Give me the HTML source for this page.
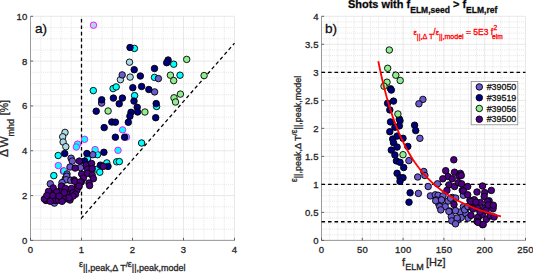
<!DOCTYPE html><html><head><meta charset="utf-8"><style>html,body{margin:0;padding:0;background:#fff;}svg{display:block}</style></head><body><svg width="533" height="273" viewBox="0 0 533 273" fill="#262626" color="#262626">
<style>.mn{stroke:#dedede;stroke-width:0.8;stroke-dasharray:1 1.1}.mj{stroke:#e2e2e2;stroke-width:0.8}text{font-family:"Liberation Sans",sans-serif;stroke:currentColor;stroke-width:0.3}.c{stroke:#000;stroke-width:0.9}</style>
<rect width="533" height="273" fill="#fff"/>
<line x1="40.70" y1="16.30" x2="40.70" y2="240.40" class="mn"/>
<line x1="50.90" y1="16.30" x2="50.90" y2="240.40" class="mn"/>
<line x1="61.10" y1="16.30" x2="61.10" y2="240.40" class="mn"/>
<line x1="71.30" y1="16.30" x2="71.30" y2="240.40" class="mn"/>
<line x1="91.70" y1="16.30" x2="91.70" y2="240.40" class="mn"/>
<line x1="101.90" y1="16.30" x2="101.90" y2="240.40" class="mn"/>
<line x1="112.10" y1="16.30" x2="112.10" y2="240.40" class="mn"/>
<line x1="122.30" y1="16.30" x2="122.30" y2="240.40" class="mn"/>
<line x1="142.70" y1="16.30" x2="142.70" y2="240.40" class="mn"/>
<line x1="152.90" y1="16.30" x2="152.90" y2="240.40" class="mn"/>
<line x1="163.10" y1="16.30" x2="163.10" y2="240.40" class="mn"/>
<line x1="173.30" y1="16.30" x2="173.30" y2="240.40" class="mn"/>
<line x1="193.70" y1="16.30" x2="193.70" y2="240.40" class="mn"/>
<line x1="203.90" y1="16.30" x2="203.90" y2="240.40" class="mn"/>
<line x1="214.10" y1="16.30" x2="214.10" y2="240.40" class="mn"/>
<line x1="224.30" y1="16.30" x2="224.30" y2="240.40" class="mn"/>
<line x1="30.50" y1="229.19" x2="234.50" y2="229.19" class="mn"/>
<line x1="30.50" y1="217.99" x2="234.50" y2="217.99" class="mn"/>
<line x1="30.50" y1="206.79" x2="234.50" y2="206.79" class="mn"/>
<line x1="30.50" y1="184.38" x2="234.50" y2="184.38" class="mn"/>
<line x1="30.50" y1="173.17" x2="234.50" y2="173.17" class="mn"/>
<line x1="30.50" y1="161.97" x2="234.50" y2="161.97" class="mn"/>
<line x1="30.50" y1="139.56" x2="234.50" y2="139.56" class="mn"/>
<line x1="30.50" y1="128.35" x2="234.50" y2="128.35" class="mn"/>
<line x1="30.50" y1="117.14" x2="234.50" y2="117.14" class="mn"/>
<line x1="30.50" y1="94.74" x2="234.50" y2="94.74" class="mn"/>
<line x1="30.50" y1="83.53" x2="234.50" y2="83.53" class="mn"/>
<line x1="30.50" y1="72.33" x2="234.50" y2="72.33" class="mn"/>
<line x1="30.50" y1="49.92" x2="234.50" y2="49.92" class="mn"/>
<line x1="30.50" y1="38.71" x2="234.50" y2="38.71" class="mn"/>
<line x1="30.50" y1="27.51" x2="234.50" y2="27.51" class="mn"/>
<line x1="30.50" y1="16.30" x2="30.50" y2="240.40" class="mj"/>
<line x1="81.50" y1="16.30" x2="81.50" y2="240.40" class="mj"/>
<line x1="132.50" y1="16.30" x2="132.50" y2="240.40" class="mj"/>
<line x1="183.50" y1="16.30" x2="183.50" y2="240.40" class="mj"/>
<line x1="234.50" y1="16.30" x2="234.50" y2="240.40" class="mj"/>
<line x1="30.50" y1="240.40" x2="234.50" y2="240.40" class="mj"/>
<line x1="30.50" y1="195.58" x2="234.50" y2="195.58" class="mj"/>
<line x1="30.50" y1="150.76" x2="234.50" y2="150.76" class="mj"/>
<line x1="30.50" y1="105.94" x2="234.50" y2="105.94" class="mj"/>
<line x1="30.50" y1="61.12" x2="234.50" y2="61.12" class="mj"/>
<line x1="30.50" y1="16.30" x2="234.50" y2="16.30" class="mj"/>
<line x1="329.66" y1="16.30" x2="329.66" y2="240.40" class="mn"/>
<line x1="337.82" y1="16.30" x2="337.82" y2="240.40" class="mn"/>
<line x1="345.98" y1="16.30" x2="345.98" y2="240.40" class="mn"/>
<line x1="354.14" y1="16.30" x2="354.14" y2="240.40" class="mn"/>
<line x1="370.46" y1="16.30" x2="370.46" y2="240.40" class="mn"/>
<line x1="378.62" y1="16.30" x2="378.62" y2="240.40" class="mn"/>
<line x1="386.78" y1="16.30" x2="386.78" y2="240.40" class="mn"/>
<line x1="394.94" y1="16.30" x2="394.94" y2="240.40" class="mn"/>
<line x1="411.26" y1="16.30" x2="411.26" y2="240.40" class="mn"/>
<line x1="419.42" y1="16.30" x2="419.42" y2="240.40" class="mn"/>
<line x1="427.58" y1="16.30" x2="427.58" y2="240.40" class="mn"/>
<line x1="435.74" y1="16.30" x2="435.74" y2="240.40" class="mn"/>
<line x1="452.06" y1="16.30" x2="452.06" y2="240.40" class="mn"/>
<line x1="460.22" y1="16.30" x2="460.22" y2="240.40" class="mn"/>
<line x1="468.38" y1="16.30" x2="468.38" y2="240.40" class="mn"/>
<line x1="476.54" y1="16.30" x2="476.54" y2="240.40" class="mn"/>
<line x1="492.86" y1="16.30" x2="492.86" y2="240.40" class="mn"/>
<line x1="501.02" y1="16.30" x2="501.02" y2="240.40" class="mn"/>
<line x1="509.18" y1="16.30" x2="509.18" y2="240.40" class="mn"/>
<line x1="517.34" y1="16.30" x2="517.34" y2="240.40" class="mn"/>
<line x1="321.50" y1="234.80" x2="525.50" y2="234.80" class="mn"/>
<line x1="321.50" y1="229.19" x2="525.50" y2="229.19" class="mn"/>
<line x1="321.50" y1="223.59" x2="525.50" y2="223.59" class="mn"/>
<line x1="321.50" y1="217.99" x2="525.50" y2="217.99" class="mn"/>
<line x1="321.50" y1="206.78" x2="525.50" y2="206.78" class="mn"/>
<line x1="321.50" y1="201.18" x2="525.50" y2="201.18" class="mn"/>
<line x1="321.50" y1="195.58" x2="525.50" y2="195.58" class="mn"/>
<line x1="321.50" y1="189.98" x2="525.50" y2="189.98" class="mn"/>
<line x1="321.50" y1="178.77" x2="525.50" y2="178.77" class="mn"/>
<line x1="321.50" y1="173.17" x2="525.50" y2="173.17" class="mn"/>
<line x1="321.50" y1="167.57" x2="525.50" y2="167.57" class="mn"/>
<line x1="321.50" y1="161.97" x2="525.50" y2="161.97" class="mn"/>
<line x1="321.50" y1="150.76" x2="525.50" y2="150.76" class="mn"/>
<line x1="321.50" y1="145.16" x2="525.50" y2="145.16" class="mn"/>
<line x1="321.50" y1="139.56" x2="525.50" y2="139.56" class="mn"/>
<line x1="321.50" y1="133.95" x2="525.50" y2="133.95" class="mn"/>
<line x1="321.50" y1="122.75" x2="525.50" y2="122.75" class="mn"/>
<line x1="321.50" y1="117.14" x2="525.50" y2="117.14" class="mn"/>
<line x1="321.50" y1="111.54" x2="525.50" y2="111.54" class="mn"/>
<line x1="321.50" y1="105.94" x2="525.50" y2="105.94" class="mn"/>
<line x1="321.50" y1="94.74" x2="525.50" y2="94.74" class="mn"/>
<line x1="321.50" y1="89.13" x2="525.50" y2="89.13" class="mn"/>
<line x1="321.50" y1="83.53" x2="525.50" y2="83.53" class="mn"/>
<line x1="321.50" y1="77.93" x2="525.50" y2="77.93" class="mn"/>
<line x1="321.50" y1="66.72" x2="525.50" y2="66.72" class="mn"/>
<line x1="321.50" y1="61.12" x2="525.50" y2="61.12" class="mn"/>
<line x1="321.50" y1="55.52" x2="525.50" y2="55.52" class="mn"/>
<line x1="321.50" y1="49.91" x2="525.50" y2="49.91" class="mn"/>
<line x1="321.50" y1="38.71" x2="525.50" y2="38.71" class="mn"/>
<line x1="321.50" y1="33.11" x2="525.50" y2="33.11" class="mn"/>
<line x1="321.50" y1="27.50" x2="525.50" y2="27.50" class="mn"/>
<line x1="321.50" y1="21.90" x2="525.50" y2="21.90" class="mn"/>
<line x1="321.50" y1="16.30" x2="321.50" y2="240.40" class="mj"/>
<line x1="362.30" y1="16.30" x2="362.30" y2="240.40" class="mj"/>
<line x1="403.10" y1="16.30" x2="403.10" y2="240.40" class="mj"/>
<line x1="443.90" y1="16.30" x2="443.90" y2="240.40" class="mj"/>
<line x1="484.70" y1="16.30" x2="484.70" y2="240.40" class="mj"/>
<line x1="525.50" y1="16.30" x2="525.50" y2="240.40" class="mj"/>
<line x1="321.50" y1="240.40" x2="525.50" y2="240.40" class="mj"/>
<line x1="321.50" y1="212.39" x2="525.50" y2="212.39" class="mj"/>
<line x1="321.50" y1="184.38" x2="525.50" y2="184.38" class="mj"/>
<line x1="321.50" y1="156.36" x2="525.50" y2="156.36" class="mj"/>
<line x1="321.50" y1="128.35" x2="525.50" y2="128.35" class="mj"/>
<line x1="321.50" y1="100.34" x2="525.50" y2="100.34" class="mj"/>
<line x1="321.50" y1="72.33" x2="525.50" y2="72.33" class="mj"/>
<line x1="321.50" y1="44.31" x2="525.50" y2="44.31" class="mj"/>
<line x1="321.50" y1="16.30" x2="525.50" y2="16.30" class="mj"/>
<path d="M30.5,16.3 V240.4 H234.5" fill="none" stroke="#9a9a9a" stroke-width="1"/>
<path d="M321.5,16.3 V240.4 H525.5" fill="none" stroke="#9a9a9a" stroke-width="1"/>
<path d="M30.50,240.4 v-2.6 M81.50,240.4 v-2.6 M132.50,240.4 v-2.6 M183.50,240.4 v-2.6 M234.50,240.4 v-2.6 M30.5,240.40 h2.6 M30.5,195.58 h2.6 M30.5,150.76 h2.6 M30.5,105.94 h2.6 M30.5,61.12 h2.6 M30.5,16.30 h2.6 M321.50,240.4 v-2.6 M362.30,240.4 v-2.6 M403.10,240.4 v-2.6 M443.90,240.4 v-2.6 M484.70,240.4 v-2.6 M525.50,240.4 v-2.6 M321.5,240.40 h2.6 M321.5,212.39 h2.6 M321.5,184.38 h2.6 M321.5,156.36 h2.6 M321.5,128.35 h2.6 M321.5,100.34 h2.6 M321.5,72.33 h2.6 M321.5,44.31 h2.6 M321.5,16.30 h2.6" stroke="#555" stroke-width="0.9" fill="none"/>
<text x="30.60" y="253" font-size="9.5" letter-spacing="0.2" text-anchor="middle">0</text>
<text x="81.60" y="253" font-size="9.5" letter-spacing="0.2" text-anchor="middle">1</text>
<text x="132.60" y="253" font-size="9.5" letter-spacing="0.2" text-anchor="middle">2</text>
<text x="183.60" y="253" font-size="9.5" letter-spacing="0.2" text-anchor="middle">3</text>
<text x="234.60" y="253" font-size="9.5" letter-spacing="0.2" text-anchor="middle">4</text>
<text x="27.5" y="243.90" font-size="9.5" letter-spacing="0.2" text-anchor="end">0</text>
<text x="27.5" y="199.08" font-size="9.5" letter-spacing="0.2" text-anchor="end">2</text>
<text x="27.5" y="154.26" font-size="9.5" letter-spacing="0.2" text-anchor="end">4</text>
<text x="27.5" y="109.44" font-size="9.5" letter-spacing="0.2" text-anchor="end">6</text>
<text x="27.5" y="64.62" font-size="9.5" letter-spacing="0.2" text-anchor="end">8</text>
<text x="27.5" y="19.80" font-size="9.5" letter-spacing="0.2" text-anchor="end">10</text>
<text x="321.60" y="253" font-size="9.5" letter-spacing="0.2" text-anchor="middle">0</text>
<text x="362.40" y="253" font-size="9.5" letter-spacing="0.2" text-anchor="middle">50</text>
<text x="403.20" y="253" font-size="9.5" letter-spacing="0.2" text-anchor="middle">100</text>
<text x="444.00" y="253" font-size="9.5" letter-spacing="0.2" text-anchor="middle">150</text>
<text x="484.80" y="253" font-size="9.5" letter-spacing="0.2" text-anchor="middle">200</text>
<text x="525.60" y="253" font-size="9.5" letter-spacing="0.2" text-anchor="middle">250</text>
<text x="318.7" y="243.90" font-size="9.5" letter-spacing="0.2" text-anchor="end">0</text>
<text x="318.7" y="215.89" font-size="9.5" letter-spacing="0.2" text-anchor="end">0.5</text>
<text x="318.7" y="187.88" font-size="9.5" letter-spacing="0.2" text-anchor="end">1</text>
<text x="318.7" y="159.86" font-size="9.5" letter-spacing="0.2" text-anchor="end">1.5</text>
<text x="318.7" y="131.85" font-size="9.5" letter-spacing="0.2" text-anchor="end">2</text>
<text x="318.7" y="103.84" font-size="9.5" letter-spacing="0.2" text-anchor="end">2.5</text>
<text x="318.7" y="75.83" font-size="9.5" letter-spacing="0.2" text-anchor="end">3</text>
<text x="318.7" y="47.81" font-size="9.5" letter-spacing="0.2" text-anchor="end">3.5</text>
<text x="318.7" y="19.80" font-size="9.5" letter-spacing="0.2" text-anchor="end">4</text>
<path d="M81.50,16.30 L81.50,217.99 L234.50,43.19" fill="none" stroke="#000" stroke-width="1.3" stroke-dasharray="3.6 2.8" stroke-dashoffset="3.7"/>
<line x1="321.5" y1="72.33" x2="525.5" y2="72.33" stroke="#000" stroke-width="1.4" stroke-dasharray="3.6 2.9"/>
<line x1="321.5" y1="184.38" x2="525.5" y2="184.38" stroke="#000" stroke-width="1.4" stroke-dasharray="3.6 2.9"/>
<line x1="321.5" y1="221.73" x2="525.5" y2="221.73" stroke="#000" stroke-width="1.4" stroke-dasharray="3.6 2.9"/>
<g class="left">
<circle cx="129.5" cy="62.2" r="3.25" fill="#add8e6" stroke="#000" stroke-width="0.9"/>
<circle cx="120.4" cy="79.7" r="3.25" fill="#add8e6" stroke="#000" stroke-width="0.9"/>
<circle cx="130.1" cy="77.1" r="3.25" fill="#add8e6" stroke="#000" stroke-width="0.9"/>
<circle cx="65" cy="132.4" r="3.25" fill="#add8e6" stroke="#000" stroke-width="0.9"/>
<circle cx="62.7" cy="136.8" r="3.25" fill="#add8e6" stroke="#000" stroke-width="0.9"/>
<circle cx="63.1" cy="142" r="3.25" fill="#add8e6" stroke="#000" stroke-width="0.9"/>
<circle cx="65.8" cy="146.7" r="3.25" fill="#add8e6" stroke="#000" stroke-width="0.9"/>
<circle cx="93.5" cy="25.2" r="3.25" fill="#add8e6" stroke="#ff00ff" stroke-width="0.9"/>
<circle cx="134.4" cy="48.4" r="3.25" fill="#00ffff" stroke="#000" stroke-width="0.9"/>
<circle cx="173.7" cy="64.2" r="3.25" fill="#00ffff" stroke="#000" stroke-width="0.9"/>
<circle cx="154.5" cy="77.4" r="3.25" fill="#00ffff" stroke="#000" stroke-width="0.9"/>
<circle cx="180" cy="75.2" r="3.25" fill="#00ffff" stroke="#000" stroke-width="0.9"/>
<circle cx="93.3" cy="90.6" r="3.25" fill="#00ffff" stroke="#000" stroke-width="0.9"/>
<circle cx="113.1" cy="88.6" r="3.25" fill="#00ffff" stroke="#000" stroke-width="0.9"/>
<circle cx="116.2" cy="86.9" r="3.25" fill="#00ffff" stroke="#000" stroke-width="0.9"/>
<circle cx="134.6" cy="95.6" r="3.25" fill="#00ffff" stroke="#000" stroke-width="0.9"/>
<circle cx="156.6" cy="106.5" r="3.25" fill="#00ffff" stroke="#000" stroke-width="0.9"/>
<circle cx="141.6" cy="143" r="3.25" fill="#00ffff" stroke="#000" stroke-width="0.9"/>
<circle cx="58.2" cy="155.5" r="3.25" fill="#00ffff" stroke="#000" stroke-width="0.9"/>
<circle cx="97.5" cy="154.7" r="3.25" fill="#00ffff" stroke="#000" stroke-width="0.9"/>
<circle cx="116.7" cy="161.8" r="3.25" fill="#00ffff" stroke="#000" stroke-width="0.9"/>
<circle cx="119.3" cy="161.6" r="3.25" fill="#00ffff" stroke="#000" stroke-width="0.9"/>
<circle cx="106.8" cy="162.9" r="3.25" fill="#00ffff" stroke="#000" stroke-width="0.9"/>
<circle cx="96.9" cy="169.3" r="3.25" fill="#00ffff" stroke="#000" stroke-width="0.9"/>
<circle cx="99.8" cy="172.2" r="3.25" fill="#00ffff" stroke="#000" stroke-width="0.9"/>
<circle cx="53.8" cy="175.6" r="3.25" fill="#00ffff" stroke="#000" stroke-width="0.9"/>
<circle cx="87.5" cy="158.8" r="3.25" fill="#00ffff" stroke="#000" stroke-width="0.9"/>
<circle cx="63.5" cy="171.1" r="3.25" fill="#00ffff" stroke="#000" stroke-width="0.9"/>
<circle cx="84.6" cy="139.3" r="3.25" fill="#00ffff" stroke="#ff00ff" stroke-width="0.9"/>
<circle cx="77.5" cy="144.1" r="3.25" fill="#00ffff" stroke="#ff00ff" stroke-width="0.9"/>
<circle cx="76.3" cy="147" r="3.25" fill="#00ffff" stroke="#ff00ff" stroke-width="0.9"/>
<circle cx="95.1" cy="149.6" r="3.25" fill="#00ffff" stroke="#ff00ff" stroke-width="0.9"/>
<circle cx="122.6" cy="129.9" r="3.25" fill="#00ffff" stroke="#ff00ff" stroke-width="0.9"/>
<circle cx="126.5" cy="137.1" r="3.25" fill="#00ffff" stroke="#ff00ff" stroke-width="0.9"/>
<circle cx="118" cy="150.3" r="3.25" fill="#00ffff" stroke="#ff00ff" stroke-width="0.9"/>
<circle cx="58.3" cy="165.6" r="3.25" fill="#00ffff" stroke="#ff00ff" stroke-width="0.9"/>
<circle cx="64.1" cy="170.9" r="3.25" fill="#00ffff" stroke="#ff00ff" stroke-width="0.9"/>
<circle cx="122.2" cy="74.9" r="3.25" fill="#6a5acd" stroke="#000" stroke-width="0.9"/>
<circle cx="158.4" cy="78.6" r="3.25" fill="#6a5acd" stroke="#000" stroke-width="0.9"/>
<circle cx="154.6" cy="91.9" r="3.25" fill="#6a5acd" stroke="#000" stroke-width="0.9"/>
<circle cx="101.6" cy="103.1" r="3.25" fill="#6a5acd" stroke="#000" stroke-width="0.9"/>
<circle cx="92.8" cy="154.7" r="3.25" fill="#6a5acd" stroke="#000" stroke-width="0.9"/>
<circle cx="71.1" cy="158.2" r="3.25" fill="#6a5acd" stroke="#000" stroke-width="0.9"/>
<circle cx="72.3" cy="161.1" r="3.25" fill="#6a5acd" stroke="#000" stroke-width="0.9"/>
<circle cx="70" cy="167" r="3.25" fill="#6a5acd" stroke="#000" stroke-width="0.9"/>
<circle cx="80.5" cy="167.6" r="3.25" fill="#6a5acd" stroke="#000" stroke-width="0.9"/>
<circle cx="67" cy="174" r="3.25" fill="#6a5acd" stroke="#000" stroke-width="0.9"/>
<circle cx="65.3" cy="178.7" r="3.25" fill="#6a5acd" stroke="#000" stroke-width="0.9"/>
<circle cx="68.8" cy="179.9" r="3.25" fill="#6a5acd" stroke="#000" stroke-width="0.9"/>
<circle cx="66.7" cy="176.2" r="3.25" fill="#6a5acd" stroke="#000" stroke-width="0.9"/>
<circle cx="66.1" cy="179.7" r="3.25" fill="#6a5acd" stroke="#000" stroke-width="0.9"/>
<circle cx="70.8" cy="180.3" r="3.25" fill="#6a5acd" stroke="#000" stroke-width="0.9"/>
<circle cx="50.3" cy="183.8" r="3.25" fill="#6a5acd" stroke="#000" stroke-width="0.9"/>
<circle cx="62" cy="182.6" r="3.25" fill="#6a5acd" stroke="#000" stroke-width="0.9"/>
<circle cx="54.4" cy="203.1" r="3.25" fill="#6a5acd" stroke="#000" stroke-width="0.9"/>
<circle cx="130" cy="47.5" r="3.25" fill="#000080" stroke="#000" stroke-width="0.9"/>
<circle cx="134.2" cy="69.7" r="3.25" fill="#000080" stroke="#000" stroke-width="0.9"/>
<circle cx="154.5" cy="68.5" r="3.25" fill="#000080" stroke="#000" stroke-width="0.9"/>
<circle cx="168.1" cy="60" r="3.25" fill="#000080" stroke="#000" stroke-width="0.9"/>
<circle cx="166.7" cy="62.7" r="3.25" fill="#000080" stroke="#000" stroke-width="0.9"/>
<circle cx="140.3" cy="76" r="3.25" fill="#000080" stroke="#000" stroke-width="0.9"/>
<circle cx="132.8" cy="87.7" r="3.25" fill="#000080" stroke="#000" stroke-width="0.9"/>
<circle cx="141.6" cy="86.5" r="3.25" fill="#000080" stroke="#000" stroke-width="0.9"/>
<circle cx="148.8" cy="89.5" r="3.25" fill="#000080" stroke="#000" stroke-width="0.9"/>
<circle cx="101.7" cy="99.8" r="3.25" fill="#000080" stroke="#000" stroke-width="0.9"/>
<circle cx="113.4" cy="98.1" r="3.25" fill="#000080" stroke="#000" stroke-width="0.9"/>
<circle cx="122.4" cy="98.1" r="3.25" fill="#000080" stroke="#000" stroke-width="0.9"/>
<circle cx="119.2" cy="103.8" r="3.25" fill="#000080" stroke="#000" stroke-width="0.9"/>
<circle cx="134" cy="101.1" r="3.25" fill="#000080" stroke="#000" stroke-width="0.9"/>
<circle cx="156.2" cy="103.6" r="3.25" fill="#000080" stroke="#000" stroke-width="0.9"/>
<circle cx="96.2" cy="111.2" r="3.25" fill="#000080" stroke="#000" stroke-width="0.9"/>
<circle cx="137.2" cy="107.3" r="3.25" fill="#000080" stroke="#000" stroke-width="0.9"/>
<circle cx="137.6" cy="112" r="3.25" fill="#000080" stroke="#000" stroke-width="0.9"/>
<circle cx="131" cy="112.3" r="3.25" fill="#000080" stroke="#000" stroke-width="0.9"/>
<circle cx="129.9" cy="116.2" r="3.25" fill="#000080" stroke="#000" stroke-width="0.9"/>
<circle cx="155.7" cy="117.7" r="3.25" fill="#000080" stroke="#000" stroke-width="0.9"/>
<circle cx="111.8" cy="122" r="3.25" fill="#000080" stroke="#000" stroke-width="0.9"/>
<circle cx="115.4" cy="122.2" r="3.25" fill="#000080" stroke="#000" stroke-width="0.9"/>
<circle cx="128.3" cy="122.3" r="3.25" fill="#000080" stroke="#000" stroke-width="0.9"/>
<circle cx="104.2" cy="127.6" r="3.25" fill="#000080" stroke="#000" stroke-width="0.9"/>
<circle cx="115.4" cy="137.2" r="3.25" fill="#000080" stroke="#000" stroke-width="0.9"/>
<circle cx="124.6" cy="137.2" r="3.25" fill="#000080" stroke="#000" stroke-width="0.9"/>
<circle cx="103.9" cy="152.3" r="3.25" fill="#000080" stroke="#000" stroke-width="0.9"/>
<circle cx="64.7" cy="153.5" r="3.25" fill="#000080" stroke="#000" stroke-width="0.9"/>
<circle cx="86.9" cy="153.5" r="3.25" fill="#000080" stroke="#000" stroke-width="0.9"/>
<circle cx="84.6" cy="161.1" r="3.25" fill="#000080" stroke="#000" stroke-width="0.9"/>
<circle cx="100.4" cy="165.2" r="3.25" fill="#000080" stroke="#000" stroke-width="0.9"/>
<circle cx="108" cy="166.4" r="3.25" fill="#000080" stroke="#000" stroke-width="0.9"/>
<circle cx="186.7" cy="59.4" r="3.25" fill="#90ee90" stroke="#000" stroke-width="0.9"/>
<circle cx="170.4" cy="75.2" r="3.25" fill="#90ee90" stroke="#000" stroke-width="0.9"/>
<circle cx="173.7" cy="80.6" r="3.25" fill="#90ee90" stroke="#000" stroke-width="0.9"/>
<circle cx="204.1" cy="75.6" r="3.25" fill="#90ee90" stroke="#000" stroke-width="0.9"/>
<circle cx="174" cy="97.8" r="3.25" fill="#90ee90" stroke="#000" stroke-width="0.9"/>
<circle cx="180.4" cy="94.1" r="3.25" fill="#90ee90" stroke="#000" stroke-width="0.9"/>
<circle cx="175.5" cy="102" r="3.25" fill="#90ee90" stroke="#000" stroke-width="0.9"/>
<circle cx="108.1" cy="111" r="3.25" fill="#90ee90" stroke="#000" stroke-width="0.9"/>
<circle cx="144.9" cy="112" r="3.25" fill="#90ee90" stroke="#000" stroke-width="0.9"/>
<circle cx="79.3" cy="161.1" r="3.25" fill="#4b0082" stroke="#000" stroke-width="0.9"/>
<circle cx="86.3" cy="165.2" r="3.25" fill="#4b0082" stroke="#000" stroke-width="0.9"/>
<circle cx="91.6" cy="163.5" r="3.25" fill="#4b0082" stroke="#000" stroke-width="0.9"/>
<circle cx="75.2" cy="168.1" r="3.25" fill="#4b0082" stroke="#000" stroke-width="0.9"/>
<circle cx="87.5" cy="169.3" r="3.25" fill="#4b0082" stroke="#000" stroke-width="0.9"/>
<circle cx="92.2" cy="168.7" r="3.25" fill="#4b0082" stroke="#000" stroke-width="0.9"/>
<circle cx="103.3" cy="166.4" r="3.25" fill="#4b0082" stroke="#000" stroke-width="0.9"/>
<circle cx="81.7" cy="174" r="3.25" fill="#4b0082" stroke="#000" stroke-width="0.9"/>
<circle cx="87.5" cy="173.4" r="3.25" fill="#4b0082" stroke="#000" stroke-width="0.9"/>
<circle cx="92.2" cy="175.2" r="3.25" fill="#4b0082" stroke="#000" stroke-width="0.9"/>
<circle cx="93.4" cy="178.7" r="3.25" fill="#4b0082" stroke="#000" stroke-width="0.9"/>
<circle cx="83.4" cy="178.1" r="3.25" fill="#4b0082" stroke="#000" stroke-width="0.9"/>
<circle cx="74.1" cy="179.9" r="3.25" fill="#4b0082" stroke="#000" stroke-width="0.9"/>
<circle cx="89" cy="183" r="3.25" fill="#4b0082" stroke="#000" stroke-width="0.9"/>
<circle cx="81.3" cy="182" r="3.25" fill="#4b0082" stroke="#000" stroke-width="0.9"/>
<circle cx="76.9" cy="187.4" r="3.25" fill="#4b0082" stroke="#000" stroke-width="0.9"/>
<circle cx="89.6" cy="185.6" r="3.25" fill="#4b0082" stroke="#000" stroke-width="0.9"/>
<circle cx="78.9" cy="186.7" r="3.25" fill="#4b0082" stroke="#000" stroke-width="0.9"/>
<circle cx="55" cy="198" r="3.25" fill="#4b0082" stroke="#000" stroke-width="0.9"/>
<circle cx="67" cy="194" r="3.25" fill="#4b0082" stroke="#000" stroke-width="0.9"/>
<circle cx="60" cy="191" r="3.25" fill="#4b0082" stroke="#000" stroke-width="0.9"/>
<circle cx="77" cy="190" r="3.25" fill="#4b0082" stroke="#000" stroke-width="0.9"/>
<circle cx="46" cy="200.5" r="3.25" fill="#4b0082" stroke="#000" stroke-width="0.9"/>
<circle cx="55" cy="200.5" r="3.25" fill="#4b0082" stroke="#000" stroke-width="0.9"/>
<circle cx="65" cy="199" r="3.25" fill="#4b0082" stroke="#000" stroke-width="0.9"/>
<circle cx="70" cy="200" r="3.25" fill="#4b0082" stroke="#000" stroke-width="0.9"/>
<circle cx="48" cy="196" r="3.25" fill="#4b0082" stroke="#000" stroke-width="0.9"/>
<circle cx="52" cy="191" r="3.25" fill="#4b0082" stroke="#000" stroke-width="0.9"/>
<circle cx="74.9" cy="181.4" r="3.25" fill="#4b0082" stroke="#000" stroke-width="0.9"/>
<circle cx="80.2" cy="182" r="3.25" fill="#4b0082" stroke="#000" stroke-width="0.9"/>
<circle cx="79" cy="186.1" r="3.25" fill="#4b0082" stroke="#000" stroke-width="0.9"/>
<circle cx="53.2" cy="187.9" r="3.25" fill="#4b0082" stroke="#000" stroke-width="0.9"/>
<circle cx="61.4" cy="186.1" r="3.25" fill="#4b0082" stroke="#000" stroke-width="0.9"/>
<circle cx="65.5" cy="188.5" r="3.25" fill="#4b0082" stroke="#000" stroke-width="0.9"/>
<circle cx="71.4" cy="188.5" r="3.25" fill="#4b0082" stroke="#000" stroke-width="0.9"/>
<circle cx="48.5" cy="191.4" r="3.25" fill="#4b0082" stroke="#000" stroke-width="0.9"/>
<circle cx="56.7" cy="192" r="3.25" fill="#4b0082" stroke="#000" stroke-width="0.9"/>
<circle cx="64.3" cy="192.6" r="3.25" fill="#4b0082" stroke="#000" stroke-width="0.9"/>
<circle cx="73.1" cy="192.6" r="3.25" fill="#4b0082" stroke="#000" stroke-width="0.9"/>
<circle cx="75.5" cy="194.3" r="3.25" fill="#4b0082" stroke="#000" stroke-width="0.9"/>
<circle cx="44.4" cy="199" r="3.25" fill="#4b0082" stroke="#000" stroke-width="0.9"/>
<circle cx="52.6" cy="195.5" r="3.25" fill="#4b0082" stroke="#000" stroke-width="0.9"/>
<circle cx="50.3" cy="201.3" r="3.25" fill="#4b0082" stroke="#000" stroke-width="0.9"/>
<circle cx="58.5" cy="200.2" r="3.25" fill="#4b0082" stroke="#000" stroke-width="0.9"/>
<circle cx="62" cy="201.3" r="3.25" fill="#4b0082" stroke="#000" stroke-width="0.9"/>
<circle cx="73.1" cy="196.1" r="3.25" fill="#4b0082" stroke="#000" stroke-width="0.9"/>
<circle cx="69" cy="197.8" r="3.25" fill="#4b0082" stroke="#000" stroke-width="0.9"/>
<circle cx="46.8" cy="195.5" r="3.25" fill="#4b0082" stroke="#000" stroke-width="0.9"/>
<circle cx="59.1" cy="196.1" r="3.25" fill="#4b0082" stroke="#000" stroke-width="0.9"/>
</g>
<g class="right">
<circle cx="422.9" cy="99.4" r="3.25" fill="#6a5acd" stroke="#000" stroke-width="0.9"/>
<circle cx="418.9" cy="103.8" r="3.25" fill="#6a5acd" stroke="#000" stroke-width="0.9"/>
<circle cx="419.9" cy="138.3" r="3.25" fill="#6a5acd" stroke="#000" stroke-width="0.9"/>
<circle cx="408.9" cy="160.6" r="3.25" fill="#6a5acd" stroke="#000" stroke-width="0.9"/>
<circle cx="417.7" cy="177" r="3.25" fill="#6a5acd" stroke="#000" stroke-width="0.9"/>
<circle cx="418.4" cy="193.4" r="3.25" fill="#6a5acd" stroke="#000" stroke-width="0.9"/>
<circle cx="423.8" cy="171.5" r="3.25" fill="#6a5acd" stroke="#000" stroke-width="0.9"/>
<circle cx="424.9" cy="175.5" r="3.25" fill="#6a5acd" stroke="#000" stroke-width="0.9"/>
<circle cx="428.2" cy="186.5" r="3.25" fill="#6a5acd" stroke="#000" stroke-width="0.9"/>
<circle cx="437.5" cy="183.8" r="3.25" fill="#6a5acd" stroke="#000" stroke-width="0.9"/>
<circle cx="430.4" cy="195.9" r="3.25" fill="#6a5acd" stroke="#000" stroke-width="0.9"/>
<circle cx="435.3" cy="194.8" r="3.25" fill="#6a5acd" stroke="#000" stroke-width="0.9"/>
<circle cx="438.1" cy="195.3" r="3.25" fill="#6a5acd" stroke="#000" stroke-width="0.9"/>
<circle cx="443" cy="195.9" r="3.25" fill="#6a5acd" stroke="#000" stroke-width="0.9"/>
<circle cx="436.4" cy="199.9" r="3.25" fill="#6a5acd" stroke="#000" stroke-width="0.9"/>
<circle cx="441.4" cy="200.2" r="3.25" fill="#6a5acd" stroke="#000" stroke-width="0.9"/>
<circle cx="438.6" cy="203.6" r="3.25" fill="#6a5acd" stroke="#000" stroke-width="0.9"/>
<circle cx="452.4" cy="197.5" r="3.25" fill="#6a5acd" stroke="#000" stroke-width="0.9"/>
<circle cx="455.7" cy="198.1" r="3.25" fill="#6a5acd" stroke="#000" stroke-width="0.9"/>
<circle cx="463.4" cy="195.3" r="3.25" fill="#6a5acd" stroke="#000" stroke-width="0.9"/>
<circle cx="448" cy="201.1" r="3.25" fill="#6a5acd" stroke="#000" stroke-width="0.9"/>
<circle cx="439.7" cy="206.6" r="3.25" fill="#6a5acd" stroke="#000" stroke-width="0.9"/>
<circle cx="445.2" cy="206.6" r="3.25" fill="#6a5acd" stroke="#000" stroke-width="0.9"/>
<circle cx="440.8" cy="209.9" r="3.25" fill="#6a5acd" stroke="#000" stroke-width="0.9"/>
<circle cx="449.6" cy="211" r="3.25" fill="#6a5acd" stroke="#000" stroke-width="0.9"/>
<circle cx="451.3" cy="216.5" r="3.25" fill="#6a5acd" stroke="#000" stroke-width="0.9"/>
<circle cx="451.8" cy="220.9" r="3.25" fill="#6a5acd" stroke="#000" stroke-width="0.9"/>
<circle cx="460.1" cy="212.1" r="3.25" fill="#6a5acd" stroke="#000" stroke-width="0.9"/>
<circle cx="461.2" cy="217.6" r="3.25" fill="#6a5acd" stroke="#000" stroke-width="0.9"/>
<circle cx="457.3" cy="220.3" r="3.25" fill="#6a5acd" stroke="#000" stroke-width="0.9"/>
<circle cx="463.4" cy="206.6" r="3.25" fill="#6a5acd" stroke="#000" stroke-width="0.9"/>
<circle cx="465.5" cy="208.8" r="3.25" fill="#6a5acd" stroke="#000" stroke-width="0.9"/>
<circle cx="466" cy="213.7" r="3.25" fill="#6a5acd" stroke="#000" stroke-width="0.9"/>
<circle cx="468.2" cy="218.1" r="3.25" fill="#6a5acd" stroke="#000" stroke-width="0.9"/>
<circle cx="493" cy="207.1" r="3.25" fill="#6a5acd" stroke="#000" stroke-width="0.9"/>
<circle cx="479.2" cy="216.5" r="3.25" fill="#6a5acd" stroke="#000" stroke-width="0.9"/>
<circle cx="455.5" cy="210.6" r="3.25" fill="#6a5acd" stroke="#000" stroke-width="0.9"/>
<circle cx="457.1" cy="218" r="3.25" fill="#6a5acd" stroke="#000" stroke-width="0.9"/>
<circle cx="448.9" cy="211.4" r="3.25" fill="#6a5acd" stroke="#000" stroke-width="0.9"/>
<circle cx="435.7" cy="200.7" r="3.25" fill="#6a5acd" stroke="#000" stroke-width="0.9"/>
<circle cx="441.5" cy="199.9" r="3.25" fill="#6a5acd" stroke="#000" stroke-width="0.9"/>
<circle cx="450.5" cy="198.2" r="3.25" fill="#6a5acd" stroke="#000" stroke-width="0.9"/>
<circle cx="455.5" cy="223.8" r="3.25" fill="#6a5acd" stroke="#000" stroke-width="0.9"/>
<circle cx="464.6" cy="209.8" r="3.25" fill="#6a5acd" stroke="#000" stroke-width="0.9"/>
<circle cx="467.9" cy="206.5" r="3.25" fill="#6a5acd" stroke="#000" stroke-width="0.9"/>
<circle cx="390.6" cy="88.8" r="3.25" fill="#000080" stroke="#000" stroke-width="0.9"/>
<circle cx="391.3" cy="90.1" r="3.25" fill="#000080" stroke="#000" stroke-width="0.9"/>
<circle cx="393.5" cy="101.1" r="3.25" fill="#000080" stroke="#000" stroke-width="0.9"/>
<circle cx="387.6" cy="103.3" r="3.25" fill="#000080" stroke="#000" stroke-width="0.9"/>
<circle cx="389.8" cy="109.9" r="3.25" fill="#000080" stroke="#000" stroke-width="0.9"/>
<circle cx="399.3" cy="119" r="3.25" fill="#000080" stroke="#000" stroke-width="0.9"/>
<circle cx="390.5" cy="121.9" r="3.25" fill="#000080" stroke="#000" stroke-width="0.9"/>
<circle cx="400" cy="120.7" r="3.25" fill="#000080" stroke="#000" stroke-width="0.9"/>
<circle cx="399.3" cy="125.9" r="3.25" fill="#000080" stroke="#000" stroke-width="0.9"/>
<circle cx="394.9" cy="127.3" r="3.25" fill="#000080" stroke="#000" stroke-width="0.9"/>
<circle cx="389.8" cy="131.7" r="3.25" fill="#000080" stroke="#000" stroke-width="0.9"/>
<circle cx="397.1" cy="136.1" r="3.25" fill="#000080" stroke="#000" stroke-width="0.9"/>
<circle cx="403" cy="138.3" r="3.25" fill="#000080" stroke="#000" stroke-width="0.9"/>
<circle cx="392.7" cy="139.1" r="3.25" fill="#000080" stroke="#000" stroke-width="0.9"/>
<circle cx="393.5" cy="142.7" r="3.25" fill="#000080" stroke="#000" stroke-width="0.9"/>
<circle cx="397.1" cy="147.1" r="3.25" fill="#000080" stroke="#000" stroke-width="0.9"/>
<circle cx="391.3" cy="150.1" r="3.25" fill="#000080" stroke="#000" stroke-width="0.9"/>
<circle cx="407.8" cy="146.4" r="3.25" fill="#000080" stroke="#000" stroke-width="0.9"/>
<circle cx="394.9" cy="155" r="3.25" fill="#000080" stroke="#000" stroke-width="0.9"/>
<circle cx="414.6" cy="125.2" r="3.25" fill="#000080" stroke="#000" stroke-width="0.9"/>
<circle cx="415.7" cy="130.6" r="3.25" fill="#000080" stroke="#000" stroke-width="0.9"/>
<circle cx="396.4" cy="160.9" r="3.25" fill="#000080" stroke="#000" stroke-width="0.9"/>
<circle cx="400" cy="162.3" r="3.25" fill="#000080" stroke="#000" stroke-width="0.9"/>
<circle cx="403.7" cy="167.5" r="3.25" fill="#000080" stroke="#000" stroke-width="0.9"/>
<circle cx="397.1" cy="173.3" r="3.25" fill="#000080" stroke="#000" stroke-width="0.9"/>
<circle cx="400" cy="177.7" r="3.25" fill="#000080" stroke="#000" stroke-width="0.9"/>
<circle cx="403" cy="177.7" r="3.25" fill="#000080" stroke="#000" stroke-width="0.9"/>
<circle cx="400" cy="181.4" r="3.25" fill="#000080" stroke="#000" stroke-width="0.9"/>
<circle cx="410.1" cy="192.8" r="3.25" fill="#000080" stroke="#000" stroke-width="0.9"/>
<circle cx="409" cy="202.2" r="3.25" fill="#000080" stroke="#000" stroke-width="0.9"/>
<circle cx="389.3" cy="50" r="3.25" fill="#90ee90" stroke="#000" stroke-width="0.9"/>
<circle cx="387.7" cy="68.3" r="3.25" fill="#90ee90" stroke="#000" stroke-width="0.9"/>
<circle cx="395.8" cy="75.2" r="3.25" fill="#90ee90" stroke="#000" stroke-width="0.9"/>
<circle cx="400.2" cy="80.5" r="3.25" fill="#90ee90" stroke="#000" stroke-width="0.9"/>
<circle cx="387" cy="82.2" r="3.25" fill="#90ee90" stroke="#000" stroke-width="0.9"/>
<circle cx="384" cy="86.2" r="3.25" fill="#90ee90" stroke="#000" stroke-width="0.9"/>
<circle cx="397.9" cy="114" r="3.25" fill="#90ee90" stroke="#000" stroke-width="0.9"/>
<circle cx="403" cy="154.7" r="3.25" fill="#90ee90" stroke="#000" stroke-width="0.9"/>
<circle cx="453.8" cy="159.8" r="3.25" fill="#4b0082" stroke="#000" stroke-width="0.9"/>
<circle cx="445.7" cy="170.7" r="3.25" fill="#4b0082" stroke="#000" stroke-width="0.9"/>
<circle cx="454.5" cy="172.2" r="3.25" fill="#4b0082" stroke="#000" stroke-width="0.9"/>
<circle cx="460.4" cy="173.4" r="3.25" fill="#4b0082" stroke="#000" stroke-width="0.9"/>
<circle cx="448" cy="176.6" r="3.25" fill="#4b0082" stroke="#000" stroke-width="0.9"/>
<circle cx="442.8" cy="178.8" r="3.25" fill="#4b0082" stroke="#000" stroke-width="0.9"/>
<circle cx="452.3" cy="178.8" r="3.25" fill="#4b0082" stroke="#000" stroke-width="0.9"/>
<circle cx="459" cy="176.1" r="3.25" fill="#4b0082" stroke="#000" stroke-width="0.9"/>
<circle cx="449" cy="184.9" r="3.25" fill="#4b0082" stroke="#000" stroke-width="0.9"/>
<circle cx="454.6" cy="186.5" r="3.25" fill="#4b0082" stroke="#000" stroke-width="0.9"/>
<circle cx="458.4" cy="182.7" r="3.25" fill="#4b0082" stroke="#000" stroke-width="0.9"/>
<circle cx="446.9" cy="190.4" r="3.25" fill="#4b0082" stroke="#000" stroke-width="0.9"/>
<circle cx="462.3" cy="190.4" r="3.25" fill="#4b0082" stroke="#000" stroke-width="0.9"/>
<circle cx="454" cy="204.5" r="3.25" fill="#4b0082" stroke="#000" stroke-width="0.9"/>
<circle cx="461.3" cy="175.5" r="3.25" fill="#4b0082" stroke="#000" stroke-width="0.9"/>
<circle cx="461.6" cy="183.8" r="3.25" fill="#4b0082" stroke="#000" stroke-width="0.9"/>
<circle cx="467.7" cy="186.5" r="3.25" fill="#4b0082" stroke="#000" stroke-width="0.9"/>
<circle cx="463.3" cy="190.9" r="3.25" fill="#4b0082" stroke="#000" stroke-width="0.9"/>
<circle cx="467.7" cy="194.8" r="3.25" fill="#4b0082" stroke="#000" stroke-width="0.9"/>
<circle cx="482.5" cy="186" r="3.25" fill="#4b0082" stroke="#000" stroke-width="0.9"/>
<circle cx="491.3" cy="190.4" r="3.25" fill="#4b0082" stroke="#000" stroke-width="0.9"/>
<circle cx="477" cy="192" r="3.25" fill="#4b0082" stroke="#000" stroke-width="0.9"/>
<circle cx="484.7" cy="192.6" r="3.25" fill="#4b0082" stroke="#000" stroke-width="0.9"/>
<circle cx="484.2" cy="196.4" r="3.25" fill="#4b0082" stroke="#000" stroke-width="0.9"/>
<circle cx="469.9" cy="200.3" r="3.25" fill="#4b0082" stroke="#000" stroke-width="0.9"/>
<circle cx="474.3" cy="199.7" r="3.25" fill="#4b0082" stroke="#000" stroke-width="0.9"/>
<circle cx="480.3" cy="202.5" r="3.25" fill="#4b0082" stroke="#000" stroke-width="0.9"/>
<circle cx="489.1" cy="200.8" r="3.25" fill="#4b0082" stroke="#000" stroke-width="0.9"/>
<circle cx="471" cy="201.6" r="3.25" fill="#4b0082" stroke="#000" stroke-width="0.9"/>
<circle cx="475.9" cy="202.2" r="3.25" fill="#4b0082" stroke="#000" stroke-width="0.9"/>
<circle cx="487.5" cy="201.6" r="3.25" fill="#4b0082" stroke="#000" stroke-width="0.9"/>
<circle cx="472.1" cy="207.7" r="3.25" fill="#4b0082" stroke="#000" stroke-width="0.9"/>
<circle cx="477.6" cy="208.2" r="3.25" fill="#4b0082" stroke="#000" stroke-width="0.9"/>
<circle cx="484.7" cy="207.7" r="3.25" fill="#4b0082" stroke="#000" stroke-width="0.9"/>
<circle cx="489.7" cy="205.5" r="3.25" fill="#4b0082" stroke="#000" stroke-width="0.9"/>
<circle cx="493" cy="208.8" r="3.25" fill="#4b0082" stroke="#000" stroke-width="0.9"/>
<circle cx="471" cy="215.4" r="3.25" fill="#4b0082" stroke="#000" stroke-width="0.9"/>
<circle cx="477.6" cy="217.6" r="3.25" fill="#4b0082" stroke="#000" stroke-width="0.9"/>
<circle cx="482.5" cy="214.3" r="3.25" fill="#4b0082" stroke="#000" stroke-width="0.9"/>
<circle cx="486.4" cy="219.2" r="3.25" fill="#4b0082" stroke="#000" stroke-width="0.9"/>
<circle cx="490.2" cy="215.9" r="3.25" fill="#4b0082" stroke="#000" stroke-width="0.9"/>
<circle cx="494.1" cy="217" r="3.25" fill="#4b0082" stroke="#000" stroke-width="0.9"/>
<circle cx="477" cy="221.4" r="3.25" fill="#4b0082" stroke="#000" stroke-width="0.9"/>
<circle cx="482.5" cy="224.7" r="3.25" fill="#4b0082" stroke="#000" stroke-width="0.9"/>
<circle cx="480" cy="212" r="3.25" fill="#4b0082" stroke="#000" stroke-width="0.9"/>
<circle cx="486.2" cy="210.3" r="3.25" fill="#4b0082" stroke="#000" stroke-width="0.9"/>
<circle cx="473" cy="209" r="3.25" fill="#4b0082" stroke="#000" stroke-width="0.9"/>
<circle cx="488" cy="205" r="3.25" fill="#4b0082" stroke="#000" stroke-width="0.9"/>
<circle cx="493.3" cy="205.2" r="3.25" fill="#4b0082" stroke="#000" stroke-width="0.9"/>
<circle cx="478.1" cy="222.4" r="3.25" fill="#4b0082" stroke="#000" stroke-width="0.9"/>
<circle cx="483.2" cy="224.4" r="3.25" fill="#4b0082" stroke="#000" stroke-width="0.9"/>
</g>
<path d="M378.29,61.25 L380.34,71.15 L382.38,80.24 L384.43,88.63 L386.47,96.37 L388.51,103.53 L390.56,110.17 L392.6,116.34 L394.65,122.09 L396.69,127.44 L398.73,132.43 L400.78,137.11 L402.82,141.48 L404.87,145.59 L406.91,149.44 L408.95,153.06 L411.0,156.47 L413.04,159.69 L415.09,162.72 L417.13,165.59 L419.18,168.3 L421.22,170.86 L423.26,173.3 L425.31,175.6 L427.35,177.79 L429.4,179.87 L431.44,181.85 L433.48,183.73 L435.53,185.52 L437.57,187.23 L439.62,188.86 L441.66,190.42 L443.7,191.91 L445.75,193.33 L447.79,194.69 L449.84,195.99 L451.88,197.24 L453.92,198.43 L455.97,199.58 L458.01,200.68 L460.06,201.74 L462.1,202.75 L464.14,203.73 L466.19,204.66 L468.23,205.57 L470.28,206.44 L472.32,207.27 L474.37,208.08 L476.41,208.85 L478.45,209.6 L480.5,210.33 L482.54,211.02 L484.59,211.7 L486.63,212.35 L488.67,212.98 L490.72,213.59 L492.76,214.17 L494.81,214.74 L496.85,215.29 L498.89,215.83 L500.94,216.34" fill="none" stroke="#ff0000" stroke-width="1.8"/>
<rect x="471.2" y="81.4" width="46.6" height="43.4" fill="#fff" stroke="#8a8a8a" stroke-width="0.8"/>
<circle cx="479.3" cy="86.90" r="3.25" fill="#6a5acd" stroke="#000" stroke-width="0.9"/>
<text x="486.7" y="90.10" font-size="8.9" fill="#000" stroke-width="0.12">#39050</text>
<circle cx="479.3" cy="97.68" r="3.25" fill="#000080" stroke="#000" stroke-width="0.9"/>
<text x="486.7" y="100.88" font-size="8.9" fill="#000" stroke-width="0.12">#39519</text>
<circle cx="479.3" cy="108.46" r="3.25" fill="#90ee90" stroke="#000" stroke-width="0.9"/>
<text x="486.7" y="111.66" font-size="8.9" fill="#000" stroke-width="0.12">#39056</text>
<circle cx="479.3" cy="119.24" r="3.25" fill="#4b0082" stroke="#000" stroke-width="0.9"/>
<text x="486.7" y="122.44" font-size="8.9" fill="#000" stroke-width="0.12">#39500</text>
<text x="35.0" y="32.6" font-size="13.6" fill="#000" stroke-width="0.45">a)</text>
<text x="325.0" y="33.2" font-size="13.6" fill="#000" stroke-width="0.45">b)</text>
<text x="347.9" y="7.9" font-size="11" font-weight="bold" fill="#000" stroke="none">Shots with f<tspan font-size="8.5" dy="4.6">ELM,seed</tspan><tspan dy="-4.6"> &gt; f</tspan><tspan font-size="8.5" dy="4.6">ELM,ref</tspan></text>
<text transform="translate(8.3,157.0) rotate(-90)" font-size="11.5"><tspan font-size="12">&#916;</tspan><tspan dx="-1.5"> W</tspan><tspan font-size="9" dy="5.2">mhd</tspan><tspan font-size="10.5" dy="-5.2" dx="0.8"> [%]</tspan></text>
<text x="79.0" y="266.5" font-size="9"><tspan font-size="9">&#949;</tspan><tspan font-size="9" dy="4.5">||,peak,&#916; T</tspan><tspan font-size="7.5" dy="-4.5">/</tspan><tspan font-size="9">&#949;</tspan><tspan font-size="9" dy="4.5">||,peak,model</tspan></text>
<text transform="translate(296.6,182.3) rotate(-90)" font-size="9"><tspan font-size="9">&#949;</tspan><tspan font-size="9" dy="4.5">||,peak,&#916; T</tspan><tspan font-size="7.5" dy="-4.5">/</tspan><tspan font-size="9">&#949;</tspan><tspan font-size="9" dy="4.5">||,peak,model</tspan></text>
<text x="402.1" y="265.5" font-size="11">f<tspan font-size="9" dy="4.5">ELM</tspan><tspan dy="-4.5" dx="-0.8"> [Hz]</tspan></text>
<g fill="#ff0000" color="#ff0000"><text x="413.5" y="34.7" font-size="8.6" stroke-width="0.2"><tspan font-size="7.4">&#949;</tspan><tspan font-size="7.2" dy="4.4">||,&#916; T</tspan><tspan font-size="8.4" dy="-4.4">/</tspan><tspan font-size="7.4">&#949;</tspan><tspan font-size="7" dy="4.4">||,model</tspan><tspan dy="-4.4" font-size="8.5"> = 5E3 f</tspan></text><text x="493.6" y="30" font-size="6.8" stroke-width="0.2">2</text><text x="492.0" y="38.6" font-size="6.6" stroke-width="0.2">elm</text></g>
</svg></body></html>
